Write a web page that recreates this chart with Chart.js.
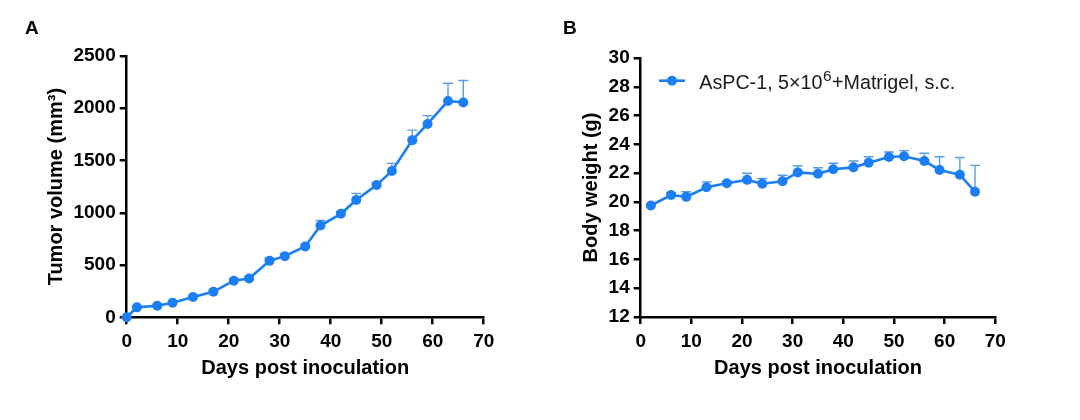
<!DOCTYPE html>
<html>
<head>
<meta charset="utf-8">
<script src="https://cdn.jsdelivr.net/npm/chart.js@4.4.1/dist/chart.umd.min.js"></script>
<style>
  html, body { margin: 0; padding: 0; background: #fff; }
  #wrap { position: relative; width: 1080px; height: 420px; overflow: hidden; }
  canvas { position: absolute; top: 0; }
  .panel { position: absolute; font: bold 19px "Liberation Sans", Arial, sans-serif; line-height: 19px; color: #000; }
</style>
</head>
<body>
<div id="wrap">
  <canvas id="chartA" width="540" height="420" style="left:0"></canvas>
  <canvas id="chartB" width="540" height="420" style="left:540px"></canvas>
  <div class="panel" style="left:25px;top:18px">A</div>
  <div class="panel" style="left:563px;top:18px">B</div>
</div>
<script>
// panel A - tumor volume
const daysA = [0, 2, 6, 9, 13, 17, 21, 24, 28, 31, 35, 38, 42, 45, 49, 52, 56, 59, 63, 66];
const volume = [0, 95, 110, 140, 195, 245, 350, 372, 540, 585, 678, 878, 990, 1122, 1265, 1400, 1695, 1850, 2070, 2055];
const volumeErr = [0, 10, 12, 15, 15, 15, 20, 20, 25, 20, 20, 48, 20, 64, 25, 73, 96, 80, 170, 210];

// panel B - body weight
const daysB = [2, 6, 9, 13, 17, 21, 24, 28, 31, 35, 38, 42, 45, 49, 52, 56, 59, 63, 66];
const weight = [19.75, 20.48, 20.35, 21.02, 21.3, 21.53, 21.26, 21.43, 22.05, 21.95, 22.27, 22.4, 22.72, 23.12, 23.17, 22.84, 22.22, 21.88, 20.71];
const weightErr = [0.1, 0.15, 0.35, 0.37, 0.12, 0.46, 0.37, 0.42, 0.46, 0.42, 0.42, 0.44, 0.42, 0.35, 0.39, 0.54, 0.92, 1.2, 1.83];

const xTicks = [0, 10, 20, 30, 40, 50, 60, 70];
const yTicksA = [0, 500, 1000, 1500, 2000, 2500];
const yTicksB = [12, 14, 16, 18, 20, 22, 24, 26, 28, 30];

const seriesLabel = 'AsPC-1, 5×10⁶+Matrigel, s.c.';

const BLUE = '#1c7ef4';
const ERR_BLUE = '#5c9be6';
const FONT = '"Liberation Sans", Arial, sans-serif';

Chart.defaults.font.family = FONT;
Chart.defaults.color = '#000';

// upper error bars, drawn under the points
const errorBars = {
  id: 'errorBars',
  beforeDatasetsDraw(chart, args, opts) {
    const meta = chart.getDatasetMeta(0);
    const ys = chart.scales.y;
    const c = chart.ctx;
    c.save();
    c.strokeStyle = ERR_BLUE;
    c.lineWidth = 1.4;
    meta.data.forEach((pt, i) => {
      const v = chart.data.datasets[0].data[i].y;
      const top = ys.getPixelForValue(v + opts.errors[i]);
      c.beginPath();
      c.moveTo(pt.x, pt.y);
      c.lineTo(pt.x, top);
      c.moveTo(pt.x - 5, top);
      c.lineTo(pt.x + 5, top);
      c.stroke();
    });
    c.restore();
  }
};

// legend of panel B with a real superscript
const legendB = {
  id: 'legendB',
  afterDraw(chart) {
    const c = chart.ctx;
    c.save();
    c.strokeStyle = BLUE;
    c.lineWidth = 2.6;
    c.beginPath();
    c.moveTo(119, 80.7);
    c.lineTo(145, 80.7);
    c.stroke();
    c.fillStyle = BLUE;
    c.beginPath();
    c.arc(132, 80.7, 5, 0, Math.PI * 2);
    c.fill();
    c.fillStyle = '#1a1a1a';
    c.textBaseline = 'alphabetic';
    const parts = seriesLabel.split('⁶');
    let x = 159.3;
    c.font = '19.7px ' + FONT;
    c.fillText(parts[0], x, 89.3);
    x += c.measureText(parts[0]).width + 0.5;
    c.font = '15.5px ' + FONT;
    c.fillText('6', x, 81);
    x += c.measureText('6').width + 0.5;
    c.font = '19.7px ' + FONT;
    c.fillText(parts[1], x, 89.3);
    c.restore();
  }
};

function axis(min, max, ticks, title, fit, tickPad, titlePad) {
  return {
    type: 'linear',
    min: min,
    max: max,
    afterBuildTicks(s) { s.ticks = ticks.map(v => ({ value: v })); },
    afterFit: fit,
    grid: { display: true, drawOnChartArea: false, drawTicks: true, tickLength: 7, color: '#000', lineWidth: 2.5 },
    border: { display: true, color: '#000', width: 2.5 },
    ticks: { padding: tickPad, font: { size: 19, weight: 'bold' }, color: '#000', callback: v => String(v) },
    title: { display: true, text: title, font: { size: 20, weight: 'bold' }, color: '#000', padding: titlePad }
  };
}

function makeChart(id, days, values, errs, yMin, yMax, yTicks, yTitle, box, extraPlugins) {
  return new Chart(document.getElementById(id), {
    type: 'line',
    data: {
      datasets: [{
        label: seriesLabel,
        data: days.map((d, i) => ({ x: d, y: values[i] })),
        borderColor: BLUE,
        backgroundColor: BLUE,
        borderWidth: 2.6,
        pointRadius: 5,
        pointHoverRadius: 5,
        pointBackgroundColor: BLUE,
        pointBorderWidth: 0,
        tension: 0,
        clip: false
      }]
    },
    options: {
      responsive: false,
      animation: false,
      layout: { padding: { left: 0, top: box.top, right: box.right, bottom: 0 } },
      plugins: {
        legend: { display: false },
        tooltip: { enabled: false },
        errorBars: { errors: errs }
      },
      scales: {
        x: axis(0, 70, xTicks, 'Days post inoculation', s => { s.height = box.xh; }, 6, { top: 0, bottom: 40 }),
        y: axis(yMin, yMax, yTicks, yTitle, s => { s.width = box.yw; }, 4, { top: box.yTitlePad, bottom: 0 })
      }
    },
    plugins: [errorBars].concat(extraPlugins)
  });
}

makeChart('chartA', daysA, volume, volumeErr, 0, 2500, yTicksA, 'Tumor volume (mm³)',
  { top: 56, right: 56.3, xh: 102.7, yw: 126.7, yTitlePad: 44 }, []);
makeChart('chartB', daysB, weight, weightErr, 12, 30, yTicksB, 'Body weight (g)',
  { top: 58, right: 84.7, xh: 103, yw: 100.7, yTitlePad: 39.8 }, [legendB]);
</script>
</body>
</html>
